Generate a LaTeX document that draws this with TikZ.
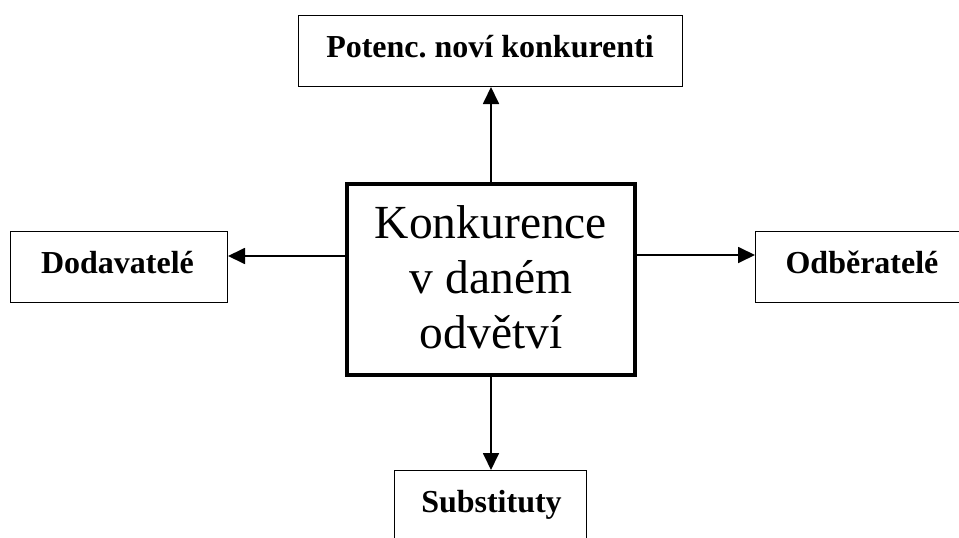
\documentclass[tikz,border=0pt]{standalone}
\usepackage{fontspec}
\setmainfont{Liberation Serif}
\usetikzlibrary{arrows.meta}
\frenchspacing

\tikzset{
  box/.style={draw, rectangle, line width=1.4pt, minimum height=70.6pt, inner sep=0pt},
  core/.style={draw, rectangle, line width=4pt, inner sep=0pt,
               minimum width=288pt, minimum height=191pt},
  lbl/.style={font=\fontsize{32}{38}\selectfont\bfseries, inner sep=0pt, anchor=base},
  big/.style={font=\fontsize{47.5}{55}\selectfont, inner sep=0pt, anchor=base},
  arr/.style={line width=1.8pt, -{Triangle[length=17pt,width=16pt]}}
}

\begin{document}
\begin{tikzpicture}[x=1pt,y=-1pt]
  \useasboundingbox (0,0) rectangle (959,538);
  \fill[white] (0,0) rectangle (959,538);
  \clip (0,0) rectangle (959,538);

  % boxes
  \node[core] (ctr) at (491,279.5) {};
  \node[box, minimum width=383.6pt] (new)  at (490.5,51) {};
  \node[box, minimum width=216.6pt] (sup)  at (119,267) {};
  \node[box, minimum width=212.6pt] (buy)  at (862,267) {};
  \node[box, minimum width=191.6pt] (subs) at (490.5,506) {};

  % labels
  \node[lbl] (newt)  at (490,57)    {Potenc. noví konkurenti};
  \node[lbl] (supt)  at (117.5,273) {Dodavatelé};
  \node[lbl] (buyt)  at (862,273)   {Odběratelé};
  \node[lbl] (subst) at (491.5,512) {Substituty};

  \node[big] (c1) at (491,238) {Konkurence};
  \node[big] (c2) at (491,293) {v daném};
  \node[big] (c3) at (491,348) {odvětví};

  % connectors
  \draw[arr] (ctr.north) -- (ctr.north |- new.south);
  \draw[arr] (ctr.south) -- (ctr.south |- subs.north);
  \draw[arr] ([yshift=23.5pt]ctr.west) -- ([yshift=23.5pt]ctr.west -| sup.east);
  \draw[arr] ([yshift=24.5pt]ctr.east) -- ([yshift=24.5pt]ctr.east -| buy.west);
\end{tikzpicture}
\end{document}
